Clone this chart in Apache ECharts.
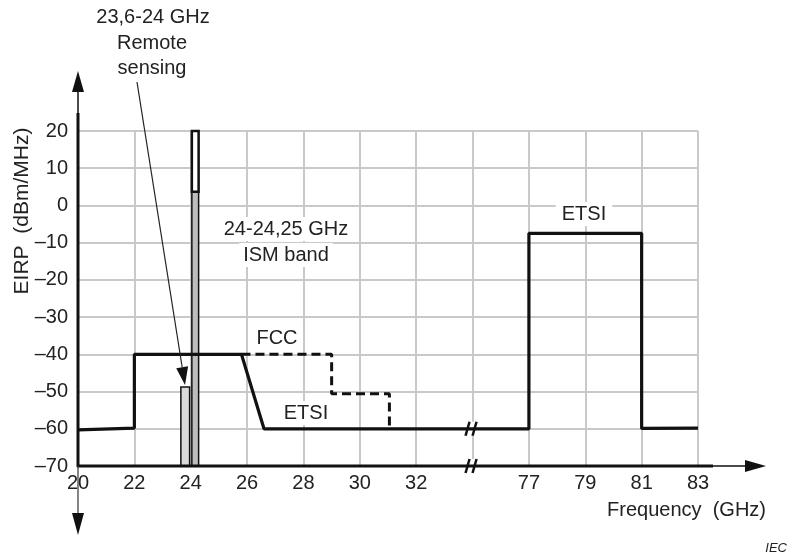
<!DOCTYPE html>
<html>
<head>
<meta charset="utf-8">
<title>EIRP limits</title>
<script src="https://cdn.jsdelivr.net/npm/echarts@6/dist/echarts.min.js"></script>
<style>
  html, body { margin: 0; padding: 0; background: #fff; }
  #chart { width: 795px; height: 559px; }
</style>
</head>
<body>
<div id="chart"></div>
<script>
// x axis is broken between 32 and 77 GHz, one tick slot each 2 GHz (or 2 GHz after the break)
const tickLabels = ['20', '22', '24', '26', '28', '30', '32', '', '77', '79', '81', '83'];
const yTicks = [-70, -60, -50, -40, -30, -20, -10, 0, 10, 20];

// ETSI limit (solid)
const etsiFreq = [20, 22, 22, 25.8, 26.6, 34, 77, 77, 81, 81, 83];
const etsiEirp = [-60.3, -59.8, -40, -40, -60, -60, -60, -7.5, -7.5, -59.9, -59.8];

// FCC limit (dashed)
const fccFreq = [25.8, 29, 29, 31.05, 31.05];
const fccEirp = [-40, -40, -50.6, -50.6, -60];

// remote sensing band and ISM band (lower filled part, upper open box)
const bandFrom = [23.65, 24.04, 24.04];
const bandTo = [23.96, 24.28, 24.28];
const bandLow = [-70, -70, 3.7];
const bandHigh = [-48.8, 3.7, 20];

const bandFill = ['#dadada', '#bdbdbd', '#ffffff'];
const bandStroke = [1.5, 1.5, 2.5];

function pos(f) {
  return f <= 40 ? (f - 20) / 2 : (f - 77) / 2 + 8;
}

const textColor = '#222';
const fontFamily = 'Liberation Sans, Arial, sans-serif';
const fontSize = 20;

const chart = echarts.init(document.getElementById('chart'));

const option = {
  backgroundColor: '#fff',
  animation: false,
  grid: { left: 78, top: 131, width: 620, height: 335, containLabel: false },
  xAxis: {
    type: 'value',
    min: 0,
    max: 11,
    interval: 1,
    axisLine: { show: false },
    axisTick: { show: false },
    axisLabel: {
      color: textColor,
      fontSize: fontSize,
      fontFamily: fontFamily,
      margin: 7,
      formatter: (v) => tickLabels[v] || ''
    },
    splitLine: { show: true, lineStyle: { color: '#c9c9c9', width: 2 } }
  },
  yAxis: {
    type: 'value',
    min: yTicks[0],
    max: yTicks[yTicks.length - 1],
    interval: 10,
    axisLine: { show: false },
    axisTick: { show: false },
    axisLabel: {
      color: textColor,
      fontSize: fontSize,
      fontFamily: fontFamily,
      margin: 10,
      formatter: (v) => (v < 0 ? '\u2013' + (-v) : String(v))
    },
    splitLine: { show: true, lineStyle: { color: '#c9c9c9', width: 2 } }
  },
  series: [
    {
      type: 'custom',
      name: 'bands',
      z: 2,
      renderItem: function (params, api) {
        const a = api.coord([api.value(0), api.value(3)]);
        const b = api.coord([api.value(1), api.value(2)]);
        const i = params.dataIndex;
        return {
          type: 'rect',
          shape: { x: a[0], y: a[1], width: b[0] - a[0], height: b[1] - a[1] },
          style: { fill: bandFill[i], stroke: '#111', lineWidth: bandStroke[i] }
        };
      },
      encode: { x: [0, 1], y: [2, 3] },
      data: bandFrom.map((f, i) => [pos(f), pos(bandTo[i]), bandLow[i], bandHigh[i]])
    },
    {
      type: 'line',
      name: 'FCC',
      z: 3,
      symbol: 'none',
      lineStyle: { color: '#111', width: 3, type: [9, 5] },
      data: fccFreq.map((f, i) => [pos(f), fccEirp[i]])
    },
    {
      type: 'line',
      name: 'ETSI',
      z: 4,
      symbol: 'none',
      lineStyle: { color: '#111', width: 3.2 },
      data: etsiFreq.map((f, i) => [pos(f), etsiEirp[i]])
    }
  ]
};

chart.setOption(option);

// axes with arrows, break marks and annotations
const o = chart.convertToPixel({ gridIndex: 0 }, [0, -70]);
const xEnd = chart.convertToPixel({ gridIndex: 0 }, [11, -70])[0];
const yTop = chart.convertToPixel({ gridIndex: 0 }, [0, 20])[1];
const brk = chart.convertToPixel({ gridIndex: 0 }, [7, -60]);

function label(text, x, y, extra) {
  return {
    type: 'text',
    x: x,
    y: y,
    z: 20,
    style: Object.assign({
      text: text,
      fill: textColor,
      font: fontSize + 'px ' + fontFamily,
      align: 'center',
      verticalAlign: 'middle'
    }, extra || {})
  };
}

function breakMark(cx, cy) {
  return {
    type: 'group',
    z: 30,
    children: [
      { type: 'rect', shape: { x: cx - 6, y: cy - 7, width: 10, height: 14 }, style: { fill: '#fff' } },
      { type: 'line', shape: { x1: cx - 7, y1: cy + 7, x2: cx - 3, y2: cy - 7 }, style: { stroke: '#111', lineWidth: 2.5 } },
      { type: 'line', shape: { x1: cx, y1: cy + 7, x2: cx + 4, y2: cy - 7 }, style: { stroke: '#111', lineWidth: 2.5 } }
    ]
  };
}

// annotation arrow, remote sensing
const ax0 = 137, ay0 = 82, ax1 = 185, ay1 = 385;
const ang = Math.atan2(ay1 - ay0, ax1 - ax0);
const hl = 18, hw = 6;
const bx = ax1 - hl * Math.cos(ang), by = ay1 - hl * Math.sin(ang);
const nx = -Math.sin(ang) * hw, ny = Math.cos(ang) * hw;

chart.setOption({
  graphic: [
    // x axis
    { type: 'line', z: 10, shape: { x1: o[0] - 1, y1: o[1], x2: xEnd + 15, y2: o[1] }, style: { stroke: '#111', lineWidth: 3 } },
    { type: 'line', z: 10, shape: { x1: xEnd + 15, y1: o[1], x2: 747, y2: o[1] }, style: { stroke: '#111', lineWidth: 1.5 } },
    { type: 'polygon', z: 10, shape: { points: [[745, o[1] - 6], [766, o[1]], [745, o[1] + 6]] }, style: { fill: '#111' } },
    // y axis
    { type: 'line', z: 10, shape: { x1: o[0], y1: o[1] + 1, x2: o[0], y2: yTop - 18 }, style: { stroke: '#111', lineWidth: 3 } },
    { type: 'line', z: 10, shape: { x1: o[0], y1: yTop - 18, x2: o[0], y2: 90 }, style: { stroke: '#111', lineWidth: 1.5 } },
    { type: 'polygon', z: 10, shape: { points: [[o[0] - 6, 92], [o[0], 71], [o[0] + 6, 92]] }, style: { fill: '#111' } },
    { type: 'line', z: 10, shape: { x1: o[0], y1: o[1], x2: o[0], y2: 515 }, style: { stroke: '#333', lineWidth: 1.2 } },
    { type: 'polygon', z: 10, shape: { points: [[o[0] - 6, 513], [o[0], 535], [o[0] + 6, 513]] }, style: { fill: '#111' } },
    // break marks
    breakMark(brk[0], brk[1]),
    breakMark(brk[0], o[1]),
    // annotation arrow
    { type: 'line', z: 15, shape: { x1: ax0, y1: ay0, x2: bx, y2: by }, style: { stroke: '#222', lineWidth: 1.2 } },
    { type: 'polygon', z: 15, shape: { points: [[ax1, ay1], [bx + nx, by + ny], [bx - nx, by - ny]] }, style: { fill: '#111' } },
    // texts
    label('23,6-24 GHz', 153, 17),
    label('Remote', 152, 43),
    label('sensing', 152, 68),
    label('24-24,25 GHz', 286, 229, { backgroundColor: '#fff', padding: [2, 4] }),
    label('ISM band', 286, 255, { backgroundColor: '#fff', padding: [2, 4] }),
    label('FCC', 277, 338, { backgroundColor: '#fff', padding: [2, 4] }),
    label('ETSI', 306, 413, { backgroundColor: '#fff', padding: [2, 4] }),
    label('ETSI', 584, 214, { backgroundColor: '#fff', padding: [2, 6] }),
    label('Frequency  (GHz)', 766, 510, { align: 'right' }),
    label('IEC', 787, 548, { align: 'right', font: 'italic 13px ' + fontFamily }),
    { type: 'text', z: 20, x: 22, y: 211, rotation: Math.PI / 2,
      style: { text: 'EIRP  (dBm/MHz)', fill: textColor, font: '21px ' + fontFamily, align: 'center', verticalAlign: 'middle' } }
  ]
});
</script>
</body>
</html>
